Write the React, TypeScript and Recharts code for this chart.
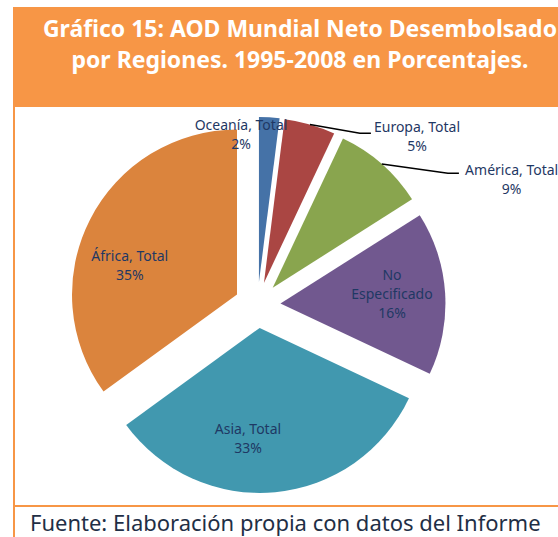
import { Pie, PieChart, Sector } from "recharts"

const regions = ["Oceanía, Total", "Europa, Total", "América, Total", "No Especificado", "Asia, Total", "África, Total"]
const shares = [2, 5, 9, 16, 33, 35]
const colors = ["#4572A7", "#AA4643", "#89A54E", "#71588F", "#4198AF", "#DB843D"]

// where Excel put each data label: radius + clock angle from pie centre, and the elbow of the leader line
const labelSpots = [
  { r: 172, a: 354.5 },
  { r: 233, a: 43.2, elbow: { r: 200, a: 30.8 } },
  { r: 284, a: 63.5, elbow: { r: 231.6, a: 55.3 } },
  { r: 135, a: 84.9 },
  { r: 133, a: 184.1 },
  { r: 134, a: 287.6 },
]

const CX = 257.5
const CY = 305
const R = 165
const EXPLODE = 23
const labelColor = "#1F3864"

const chartData = regions.map((name, i) => ({ name, value: shares[i], fill: colors[i] }))

// clock angle (0 = 12 o'clock, clockwise)
const polar = (r: number, a: number) => {
  const rad = (a * Math.PI) / 180
  return { x: CX + r * Math.sin(rad), y: CY - r * Math.cos(rad) }
}

const ExplodedSlice = (props: any) => {
  const rad = (-props.midAngle * Math.PI) / 180
  return (
    <Sector
      {...props}
      cx={props.cx + EXPLODE * Math.cos(rad)}
      cy={props.cy + EXPLODE * Math.sin(rad)}
      stroke="none"
    />
  )
}

const renderLabel = (props: any) => {
  const { index, midAngle, name, value } = props
  const spot = labelSpots[index]
  const pos = polar(spot.r, spot.a)
  const lines = name === "No Especificado" ? ["No", "Especificado", `${value}%`] : [name, `${value}%`]
  const lh = 19
  const top = pos.y - ((lines.length - 1) * lh) / 2
  let leader = null
  if (spot.elbow) {
    const clock = 90 - midAngle
    const ex = polar(EXPLODE, clock)
    const rad = (clock * Math.PI) / 180
    const sx = ex.x + R * Math.sin(rad)
    const sy = ex.y - R * Math.cos(rad)
    const el = polar(spot.elbow.r, spot.elbow.a)
    leader = (
      <polyline
        points={`${sx},${sy} ${el.x},${el.y} ${el.x + 11},${el.y}`}
        fill="none"
        stroke="#000"
        strokeWidth={1.5}
      />
    )
  }
  return (
    <g key={`lbl-${index}`}>
      {leader}
      <text
        x={pos.x}
        y={top}
        textAnchor="middle"
        dominantBaseline="central"
        fill={labelColor}
        fontSize={14}
        fontFamily="'Noto Sans', sans-serif"
      >
        {lines.map((t, i) => (
          <tspan key={i} x={pos.x} y={top + i * lh}>
            {t}
          </tspan>
        ))}
      </text>
    </g>
  )
}

export default function App() {
  return (
    <div
      style={{
        position: "absolute",
        left: 0,
        top: 0,
        width: 558,
        height: 537,
        overflow: "hidden",
        background: "#fff",
        fontFamily: "'Noto Sans', sans-serif",
      }}
    >
      {/* header box */}
      <div
        style={{
          position: "absolute",
          left: 13,
          top: 7,
          width: 574,
          height: 100,
          background: "#F79646",
          color: "#fff",
          fontWeight: 700,
          fontSize: 23,
          lineHeight: "31px",
          textAlign: "center",
          paddingTop: 6,
          boxSizing: "border-box",
          whiteSpace: "nowrap",
        }}
      >
        Gráfico 15: AOD Mundial Neto Desembolsado
        <br />
        por Regiones. 1995-2008 en Porcentajes.
      </div>
      {/* frame lines */}
      <div style={{ position: "absolute", left: 13, top: 107, width: 2, height: 430, background: "#F79646" }} />
      <div style={{ position: "absolute", left: 13, top: 505, width: 545, height: 2, background: "#F79646" }} />
      <div
        style={{
          position: "absolute",
          left: 30,
          top: 507,
          fontSize: 22,
          color: "#1F2F46",
          whiteSpace: "nowrap",
        }}
      >
        Fuente: Elaboración propia con datos del Informe
      </div>
      <div style={{ position: "absolute", left: 0, top: 0 }}>
        <PieChart width={558} height={537} margin={{ top: 0, right: 0, bottom: 0, left: 0 }}>
          <Pie
            data={chartData}
            dataKey="value"
            nameKey="name"
            cx={CX}
            cy={CY}
            outerRadius={R}
            startAngle={90}
            endAngle={-270}
            stroke="none"
            isAnimationActive={false}
            shape={ExplodedSlice}
            activeShape={ExplodedSlice}
            inactiveShape={ExplodedSlice}
            label={renderLabel}
            labelLine={false}
          />
        </PieChart>
      </div>
    </div>
  )
}
